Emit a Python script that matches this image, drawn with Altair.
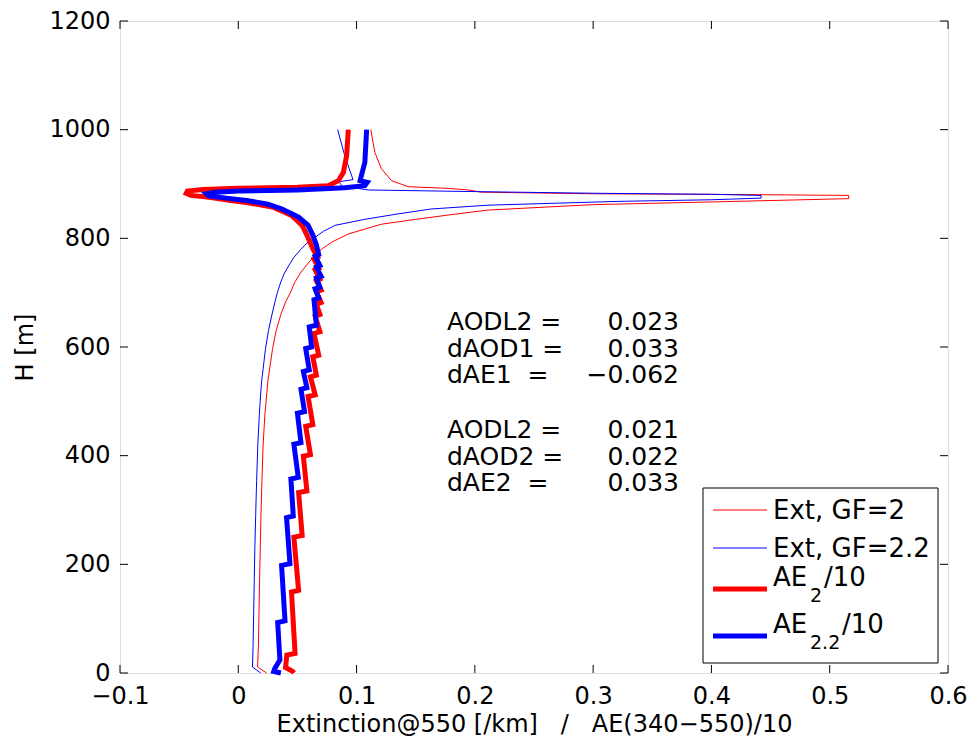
import altair as alt
import pandas as pd

# ---------------- data ----------------
# Extinction @550, GF=2 (thin red): heights [m] and values [/km]
ext_gf2_h = [1000, 958, 928, 906, 895, 892, 889, 885, 882, 881, 879, 873, 867, 862, 852, 843, 835, 826, 808, 793,
             781, 769, 754, 738, 720, 700, 683, 660, 630, 597, 560, 537, 500, 476, 420, 354, 290, 231, 170, 110,
             50, 11, 0]
ext_gf2_x = [0.112, 0.1155, 0.121, 0.1296, 0.1437, 0.1775, 0.195, 0.205, 0.30, 0.40, 0.516, 0.516, 0.40, 0.30,
             0.211, 0.178, 0.150, 0.121, 0.093, 0.079, 0.071, 0.065, 0.059, 0.053, 0.048, 0.044, 0.040, 0.036,
             0.032, 0.029, 0.0265, 0.025, 0.0235, 0.0225, 0.021, 0.020, 0.0192, 0.0186, 0.018, 0.0175, 0.017,
             0.0163, 0.024]

# Extinction @550, GF=2.2 (thin blue)
ext_gf22_h = [1000, 952, 908, 904, 896, 889, 886, 883, 881, 879, 874, 871, 868, 861, 854, 845, 835, 824, 813, 802,
              791, 780, 765, 751, 736, 720, 700, 683, 660, 630, 597, 560, 537, 500, 476, 420, 354, 290, 231, 170,
              110, 50, 11, 0]
ext_gf22_x = [0.084, 0.090, 0.097, 0.085, 0.088, 0.11, 0.2, 0.30, 0.40, 0.442, 0.442, 0.40, 0.321, 0.211, 0.163,
              0.135, 0.107, 0.082, 0.072, 0.065, 0.058, 0.053, 0.047, 0.043, 0.039, 0.036, 0.033, 0.031, 0.0285,
              0.0255, 0.023, 0.021, 0.0197, 0.0185, 0.0178, 0.0165, 0.0155, 0.0147, 0.014, 0.0135, 0.013, 0.0125,
              0.012, 0.019]

# AE_2 / 10 (thick red)
ae2_h = [1000, 952, 921, 906, 897, 894, 892, 890, 887, 883, 879, 875, 870, 866, 857, 842, 824, 806, 781, 765,
         762, 745, 742, 725, 722, 705, 702, 682, 679, 660, 657, 628, 625, 585, 582, 548, 545, 512, 509, 457,
         454, 402, 399, 335, 332, 253, 250, 152, 149, 36, 33, 10, 3, 0]
ae2_x = [0.093, 0.0916, 0.0888, 0.0845, 0.076, 0.05, 0.0, -0.03, -0.043, -0.044, -0.04, -0.023, -0.008, 0.007,
         0.030, 0.045, 0.054, 0.058, 0.063, 0.067, 0.064, 0.068, 0.065, 0.069, 0.066, 0.070, 0.066, 0.070, 0.066,
         0.069, 0.065, 0.069, 0.064, 0.068, 0.063, 0.066, 0.061, 0.065, 0.059, 0.063, 0.057, 0.061, 0.055, 0.058,
         0.051, 0.054, 0.047, 0.051, 0.045, 0.048, 0.041, 0.040, 0.046, 0.047]

# AE_2.2 / 10 (thick blue)
ae22_h = [1000, 940, 915, 906, 903, 897, 893, 889, 887, 885, 882, 878, 874, 869, 863, 854, 839, 824, 806, 788,
          770, 767, 750, 747, 730, 727, 710, 707, 690, 687, 640, 637, 600, 597, 558, 555, 525, 522, 481, 478,
          424, 421, 360, 357, 289, 286, 201, 198, 96, 93, 24, 9, 3, 0]
ae22_x = [0.1085, 0.107, 0.104, 0.103, 0.109, 0.107, 0.09, 0.05, 0.0, -0.02, -0.027, -0.025, -0.01, 0.0085,
          0.025, 0.037, 0.051, 0.059, 0.063, 0.066, 0.068, 0.065, 0.069, 0.066, 0.070, 0.066, 0.069, 0.065,
          0.068, 0.064, 0.066, 0.060, 0.062, 0.057, 0.060, 0.055, 0.058, 0.053, 0.056, 0.050, 0.053, 0.047,
          0.0507, 0.0445, 0.0465, 0.0408, 0.0437, 0.0366, 0.0395, 0.0333, 0.0352, 0.031, 0.030, 0.036]

x_ticks = [-0.1, 0, 0.1, 0.2, 0.3, 0.4, 0.5, 0.6]
y_ticks = [0, 200, 400, 600, 800, 1000, 1200]

ann1_labels = ["AODL2 =", "dAOD1 =", "dAE1\u00a0\u00a0="]
ann1_values = ["0.023", "0.033", "\u22120.062"]
ann2_labels = ["AODL2 =", "dAOD2 =", "dAE2\u00a0\u00a0="]
ann2_values = ["0.021", "0.022", "0.033"]

legend_labels = ["Ext, GF=2", "Ext, GF=2.2"]
ae_base = "AE"
ae_subs = ["2", "2.2"]
ae_tail = "/10"

x_title = "Extinction@550 [/km]\u00a0\u00a0\u00a0/\u00a0\u00a0\u00a0AE(340\u2212550)/10"
y_title = "H [m]"

# ---------------- build table ----------------
rows = []
for name, hs, xs in [("ext2", ext_gf2_h, ext_gf2_x), ("ext22", ext_gf22_h, ext_gf22_x),
                     ("ae2", ae2_h, ae2_x), ("ae22", ae22_h, ae22_x)]:
    for i, (h, x) in enumerate(zip(hs, xs)):
        rows.append({"series": name, "i": i, "h": h, "x": x})
df = pd.DataFrame(rows)

FONT = "DejaVu Sans"
W, H = 828, 652
TOP = 13
LEFT = 112
OX = 8 + LEFT      # page x of plot origin
OY = 8 + TOP       # page y of plot origin

x_scale = alt.Scale(domain=[-0.1, 0.6], nice=False, zero=False)
y_scale = alt.Scale(domain=[0, 1200], nice=False, zero=False)

x_axis = alt.Axis(values=x_ticks, ticks=False, tickSize=0, domain=False, grid=False,
                  labelExpr="datum.value == 0 ? '0' : format(datum.value, '.1f')",
                  labelFont=FONT, labelFontSize=24, labelColor="black", labelPadding=11,
                  labelOverlap=False, labelFlush=False, labelBound=False,
                  titleFont=FONT, titleFontSize=24, titleFontWeight="normal", titleColor="black",
                  titlePadding=4)
y_axis = alt.Axis(values=y_ticks, ticks=False, tickSize=0, domain=False, grid=False, format="d",
                  labelFont=FONT, labelFontSize=24, labelColor="black", labelPadding=10,
                  labelOverlap=False, labelFlush=False, labelBound=False,
                  titleFont=FONT, titleFontSize=24, titleFontWeight="normal", titleColor="black",
                  titlePadding=11)

X = alt.X("x:Q", scale=x_scale, axis=x_axis, title=x_title)
Y = alt.Y("h:Q", scale=y_scale, axis=y_axis, title=y_title)

base = alt.Chart(df)


def line(name, color, width):
    return base.transform_filter(alt.datum.series == name).mark_line(
        color=color, strokeWidth=width
    ).encode(x=X, y=Y, order=alt.Order("i:Q"))


layers = [
    line("ext2", "#ff0000", 1),
    line("ext22", "#0000ff", 1),
    line("ae2", "#ff0000", 5),
    line("ae22", "#0000ff", 5),
]

# inward ticks on all four sides (MATLAB box style)
xt = alt.Chart(pd.DataFrame({"x": x_ticks}))
yt = alt.Chart(pd.DataFrame({"h": y_ticks}))
layers += [
    xt.mark_rule(color="black", strokeWidth=1).encode(x=X, y=alt.value(H), y2=alt.value(H - 8)),
    xt.mark_rule(color="black", strokeWidth=1).encode(x=X, y=alt.value(0), y2=alt.value(8)),
    yt.mark_rule(color="black", strokeWidth=1).encode(y=Y, x=alt.value(0), x2=alt.value(8)),
    yt.mark_rule(color="black", strokeWidth=1).encode(y=Y, x=alt.value(W), x2=alt.value(W - 8)),
]

one = alt.Chart(pd.DataFrame({"a": [0]}))


def px(v):
    return v - OX


def py(v):
    return v - OY


# annotation blocks
ann = dict(baseline="top", font=FONT, fontSize=25, lineBreak="\n", lineHeight=26.5, color="black")
y1 = py(310)
layers += [
    one.mark_text(align="left", **ann).encode(x=alt.value(px(447)), y=alt.value(y1),
                                              text=alt.value("\n".join(ann1_labels))),
    one.mark_text(align="right", **ann).encode(x=alt.value(px(679)), y=alt.value(y1),
                                               text=alt.value("\n".join(ann1_values))),
    one.mark_text(align="left", **ann).encode(x=alt.value(px(447)), y=alt.value(y1 + 108),
                                              text=alt.value("\n".join(ann2_labels))),
    one.mark_text(align="right", **ann).encode(x=alt.value(px(679)), y=alt.value(y1 + 108),
                                               text=alt.value("\n".join(ann2_values))),
]

# legend box
layers += [
    one.mark_rect(fill="white", stroke="black", strokeWidth=1).encode(
        x=alt.value(px(703)), x2=alt.value(px(938)), y=alt.value(py(488)), y2=alt.value(py(663))),
    one.mark_rule(color="#ff0000", strokeWidth=1).encode(
        x=alt.value(px(713)), x2=alt.value(px(767)), y=alt.value(py(510)), y2=alt.value(py(510))),
    one.mark_rule(color="#0000ff", strokeWidth=1).encode(
        x=alt.value(px(713)), x2=alt.value(px(767)), y=alt.value(py(548)), y2=alt.value(py(548))),
    one.mark_rule(color="#ff0000", strokeWidth=5).encode(
        x=alt.value(px(713)), x2=alt.value(px(767)), y=alt.value(py(589)), y2=alt.value(py(589))),
    one.mark_rule(color="#0000ff", strokeWidth=5).encode(
        x=alt.value(px(713)), x2=alt.value(px(767)), y=alt.value(py(636)), y2=alt.value(py(636))),
]
leg_txt = dict(align="left", baseline="middle", font=FONT, color="black")
layers += [
    one.mark_text(fontSize=26, **leg_txt).encode(x=alt.value(px(773)), y=alt.value(py(511)),
                                                 text=alt.value(legend_labels[0])),
    one.mark_text(fontSize=26, **leg_txt).encode(x=alt.value(px(773)), y=alt.value(py(549)),
                                                 text=alt.value(legend_labels[1])),
    one.mark_text(fontSize=26, **leg_txt).encode(x=alt.value(px(773)), y=alt.value(py(578)),
                                                 text=alt.value(ae_base)),
    one.mark_text(fontSize=19, **leg_txt).encode(x=alt.value(px(810)), y=alt.value(py(596)),
                                                 text=alt.value(ae_subs[0])),
    one.mark_text(fontSize=26, **leg_txt).encode(x=alt.value(px(824)), y=alt.value(py(578)),
                                                 text=alt.value(ae_tail)),
    one.mark_text(fontSize=26, **leg_txt).encode(x=alt.value(px(773)), y=alt.value(py(625)),
                                                 text=alt.value(ae_base)),
    one.mark_text(fontSize=19, **leg_txt).encode(x=alt.value(px(810)), y=alt.value(py(643)),
                                                 text=alt.value(ae_subs[1])),
    one.mark_text(fontSize=26, **leg_txt).encode(x=alt.value(px(842)), y=alt.value(py(625)),
                                                 text=alt.value(ae_tail)),
]

chart = alt.layer(*layers).properties(
    width=W, height=H,
    autosize=alt.AutoSizeParams(type="none"),
    padding={"left": LEFT, "top": TOP, "right": 19, "bottom": 70},
    background="white",
).configure_view(stroke="black", strokeWidth=1).configure(font=FONT)

chart.save("out.html", embed_options={"renderer": "svg", "actions": False})
